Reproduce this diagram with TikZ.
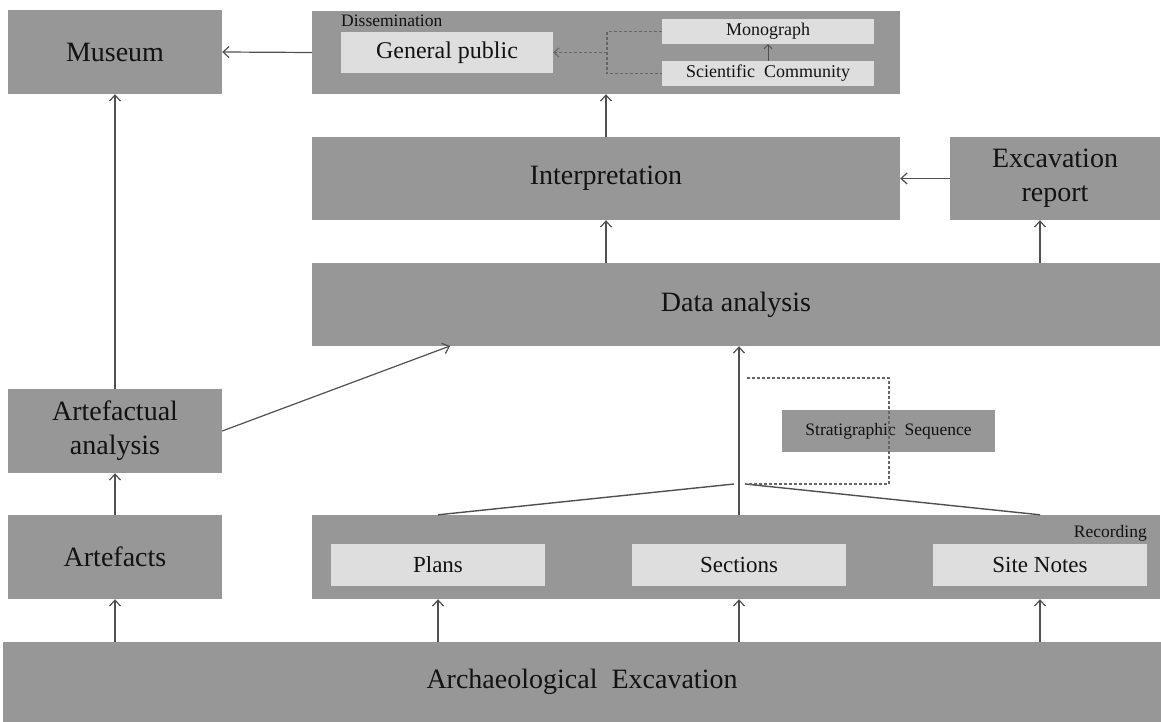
\documentclass[tikz,border=0pt]{standalone}
\usepackage{fontspec}
\setmainfont{Liberation Serif}
\usetikzlibrary{arrows.meta,calc}
\definecolor{boxgray}{HTML}{979797}
\definecolor{innergray}{HTML}{DEDEDE}
\definecolor{linegray}{HTML}{505050}
\definecolor{dashgray}{HTML}{666666}
\definecolor{inkcol}{HTML}{121212}
\tikzset{
  gbox/.style={fill=boxgray, draw=none, inner sep=0pt, text=inkcol, align=center,
    font=\fontsize{28}{34}\selectfont},
  lbox/.style={fill=innergray, draw=none, inner sep=0pt, text=inkcol, align=center},
  tag/.style={inner sep=0pt, text=inkcol, font=\fontsize{17.5}{20}\selectfont},
  arr/.style={draw=linegray, line width=1.2pt, -{Straight Barb[length=6pt,width=11pt]}},
  plainline/.style={draw=linegray, line width=1.4pt},
  dashline/.style={draw=dashgray, line width=1.1pt, dash pattern=on 3pt off 2pt},
  dasharr/.style={dashline, -{Straight Barb[length=5pt,width=9pt]}},
}
\begin{document}
\begin{tikzpicture}[x=1pt,y=-1pt]
\useasboundingbox (0,0) rectangle (1161,722);

% main blocks
\node[gbox, minimum width=214, minimum height=84] (museum) at (115,52) {Museum};
\node[gbox, minimum width=588, minimum height=83] (diss) at (606,52.5) {};
\node[gbox, minimum width=588, minimum height=83] (interp) at (606,178.5) {Interpretation};
\node[gbox, minimum width=210, minimum height=83] (excrep) at (1055,178.5) {Excavation\\report};
\node[gbox, minimum width=848, minimum height=83] (data) at (736,304.5) {Data analysis};
\node[gbox, minimum width=214, minimum height=84] (artan) at (115,431) {Artefactual\\analysis};
\node[gbox, minimum width=214, minimum height=84] (artef) at (115,557) {Artefacts};
\node[gbox, minimum width=848, minimum height=84] (rec) at (736,557) {};
\node[gbox, minimum width=1158, minimum height=80] (exc) at (582,682) {Archaeological\ \ Excavation};

% dissemination contents
\node[tag, anchor=base west] (disslabel) at (341,27) {Dissemination};
\node[lbox, minimum width=212, minimum height=41, font=\fontsize{24}{28}\selectfont] (genpub) at (447,52.5) {General public};
\node[lbox, minimum width=212, minimum height=25, font=\fontsize{18}{20}\selectfont] (mono) at (768,31.5) {Monograph};
\node[lbox, minimum width=212, minimum height=25, font=\fontsize{18}{20}\selectfont] (scicom) at (768,73.5) {Scientific\ \ Community};

% recording contents
\node[tag, anchor=base east] (reclabel) at (1147,537) {Recording};
\node[lbox, minimum width=214, minimum height=42, font=\fontsize{23}{26}\selectfont] (plans) at (438,565) {Plans};
\node[lbox, minimum width=214, minimum height=42, font=\fontsize{23}{26}\selectfont] (sections) at (739,565) {Sections};
\node[lbox, minimum width=214, minimum height=42, font=\fontsize{23}{26}\selectfont] (notes) at (1040,565) {Site Notes};

% stratigraphic sequence
\node[gbox, minimum width=213, minimum height=42, font=\fontsize{17.5}{20}\selectfont] (strat) at (888.5,431) {Stratigraphic\ \ Sequence};

% auxiliary points
\coordinate (jl) at (734,484);
\coordinate (jr) at (745,484);
\coordinate (bt) at (747,378);
\coordinate (br) at (889,378);
\coordinate (bbr) at (889,484);
\coordinate (bb) at (747,484);
\coordinate (artin) at (450,346);
\coordinate (splitx) at (607,52.5);

% excavation feeds
\draw[arr] (artef.south |- exc.north) -- (artef.south);
\draw[arr] (plans.south |- exc.north) -- (plans.south |- rec.south);
\draw[arr] (sections.south |- exc.north) -- (sections.south |- rec.south);
\draw[arr] (notes.south |- exc.north) -- (notes.south |- rec.south);

% left column
\draw[arr] (artef.north) -- (artan.south);
\draw[arr] (artan.north) -- (museum.south);
\draw[arr] (artan.east) -- (artin);

% recording to data analysis
\draw[plainline] (plans.north |- rec.north) -- (jl);
\draw[plainline] (notes.north |- rec.north) -- (jr);
\draw[arr] (sections.north |- rec.north) -- (sections.north |- data.south);
\draw[dashline] (bt) -- (br) -- (bbr) -- (bb);

% upper flow
\draw[arr] (interp.south |- data.north) -- (interp.south);
\draw[arr] (notes.north |- data.north) -- (notes.north |- excrep.south);
\draw[arr] (excrep.west) -- (interp.east);
\draw[arr] (interp.north) -- (diss.south);
\draw[arr] (diss.west) -- (museum.east);

% within dissemination
\draw[dashline] (mono.west) -| (splitx) |- (scicom.west);
\draw[dasharr] (splitx) -- (genpub.east);
\draw[draw=linegray, line width=0.9pt, -{Straight Barb[length=4pt,width=8pt]}] (scicom.north) -- (mono.south);
\end{tikzpicture}
\end{document}
